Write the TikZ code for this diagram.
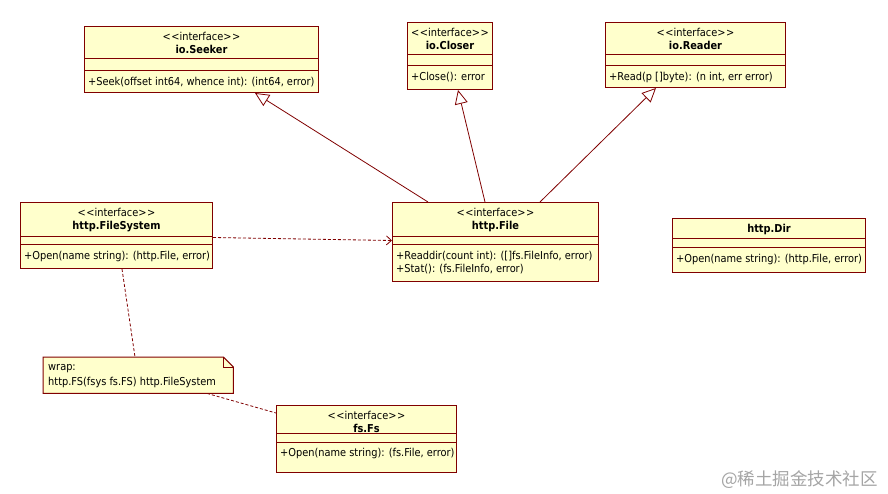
\documentclass[tikz,border=0pt]{standalone}
\usepackage{fontspec}
\setmainfont{DejaVu Sans Condensed}
\newfontfamily\cjkfont{Noto Sans CJK SC}
\usetikzlibrary{arrows.meta,calc}
\definecolor{umlfill}{RGB}{255,255,204}
\definecolor{umlline}{RGB}{128,0,0}
\definecolor{wmgray}{RGB}{165,165,165}
\newcommand\umlfont{\fontsize{10.9}{12.8}\selectfont}
\newcommand\stereo{<\kern0.6pt<interface>\kern0.6pt>}
\tikzset{
 classbox/.style={draw=umlline, fill=umlfill, line width=1pt, inner sep=0pt, rectangle},
 sepline/.style={draw=umlline, line width=1pt},
 headtext/.style={anchor=north, inner sep=0pt, align=center, font=\umlfont},
 opstext/.style={anchor=north west, inner sep=0pt, align=left, font=\umlfont},
 gen/.style={draw=umlline, line width=0.8pt, -{Triangle[open,length=14pt,width=13pt]}},
 dep/.style={draw=umlline, line width=0.8pt, dash pattern=on 3pt off 2pt, -{Straight Barb[length=5pt,width=9pt]}},
 anchorline/.style={draw=umlline, line width=0.8pt, dash pattern=on 3pt off 2pt},
 notebox/.style={draw=none, inner sep=0pt, minimum width=190pt, minimum height=36pt, anchor=north west},
 noteshape/.style={draw=umlline, fill=umlfill, line width=1pt},
}
% name, x, y, w, h, sep1, sep2, header, ops
\newcommand\umlclass[9]{%
 \node[classbox, minimum width=#4pt, minimum height=#5pt, anchor=north west] (#1) at (#2,#3) {};
 \draw[sepline] ([yshift=-#6pt]#1.north west) -- ([yshift=-#6pt]#1.north east);
 \draw[sepline] ([yshift=-#7pt]#1.north west) -- ([yshift=-#7pt]#1.north east);
 \node[headtext] (#1-head) at ([yshift=-6pt]#1.north) {#8};
 \node[opstext] (#1-ops) at ([xshift=4pt,yshift=-#7pt-6pt]#1.north west) {#9};
}
\begin{document}
\begin{tikzpicture}[x=1pt,y=-1pt]
\fill[white] (0,0) rectangle (888,494);
\useasboundingbox (0,0) rectangle (888,494);

\umlclass{seeker}{84}{26}{234}{66}{33}{45}{\stereo\\\textbf{io.Seeker}}{+Seek(offset int64, whence int): (int64, error)}
\umlclass{closer}{407}{22}{85}{67}{33}{44}{\stereo\\\textbf{io.Closer}}{+Close(): error}
\umlclass{reader}{605}{22}{180}{65}{33}{44}{\stereo\\\textbf{io.Reader}}{+Read(p []byte): (n int, err error)}
\umlclass{fsys}{20}{202}{192}{66}{35}{43}{\stereo\\\textbf{http.FileSystem}}{+Open(name string): (http.File, error)}
\umlclass{file}{392}{202}{206}{79}{35}{43}{\stereo\\\textbf{http.File}}{+Readdir(count int): ([]fs.FileInfo, error)\\+Stat(): (fs.FileInfo, error)}
\umlclass{dir}{672}{218}{193}{54}{21}{30}{\textbf{http.Dir}}{+Open(name string): (http.File, error)}
\umlclass{fsfs}{276}{405}{180}{67}{28}{37}{\stereo\\\textbf{fs.Fs}}{+Open(name string): (fs.File, error)}

% note
\node[notebox] (note) at (43,357) {};
\draw[noteshape] (note.north west) -- ([xshift=-10pt]note.north east) -- ([yshift=-10pt]note.north east) -- (note.south east) -- (note.south west) -- cycle;
\draw[sepline] ([xshift=-10pt]note.north east) -- ([xshift=-10pt,yshift=-10pt]note.north east) -- ([yshift=-10pt]note.north east);
\node[opstext, font=\fontsize{10.9}{15.5}\selectfont] (note-text) at ([xshift=5pt,yshift=-7pt]note.north west) {wrap:\\http.FS(fsys fs.FS) http.FileSystem};

% generalizations
\draw[gen] ([xshift=36pt]file.north west) -- ([xshift=171pt]seeker.south west);
\draw[gen] ([xshift=93pt]file.north west) -- ([xshift=51pt]closer.south west);
\draw[gen] ([xshift=148pt]file.north west) -- ([xshift=51pt]reader.south west);

% dependency
\draw[dep] ([yshift=-2pt]fsys.east) -- ([yshift=1.5pt]file.west);

% note anchors
\draw[anchorline] ([xshift=102pt]fsys.south west) -- ([xshift=92pt]note.north west);
\draw[anchorline] ([xshift=164pt]note.south west) -- ([yshift=-8pt]fsfs.north west);

% watermark
\node[anchor=base west, inner sep=0pt, font=\cjkfont\fontsize{17.5}{17.5}\selectfont, text=wmgray] (wm) at (721,485) {@稀土掘金技术社区};
\end{tikzpicture}
\end{document}
